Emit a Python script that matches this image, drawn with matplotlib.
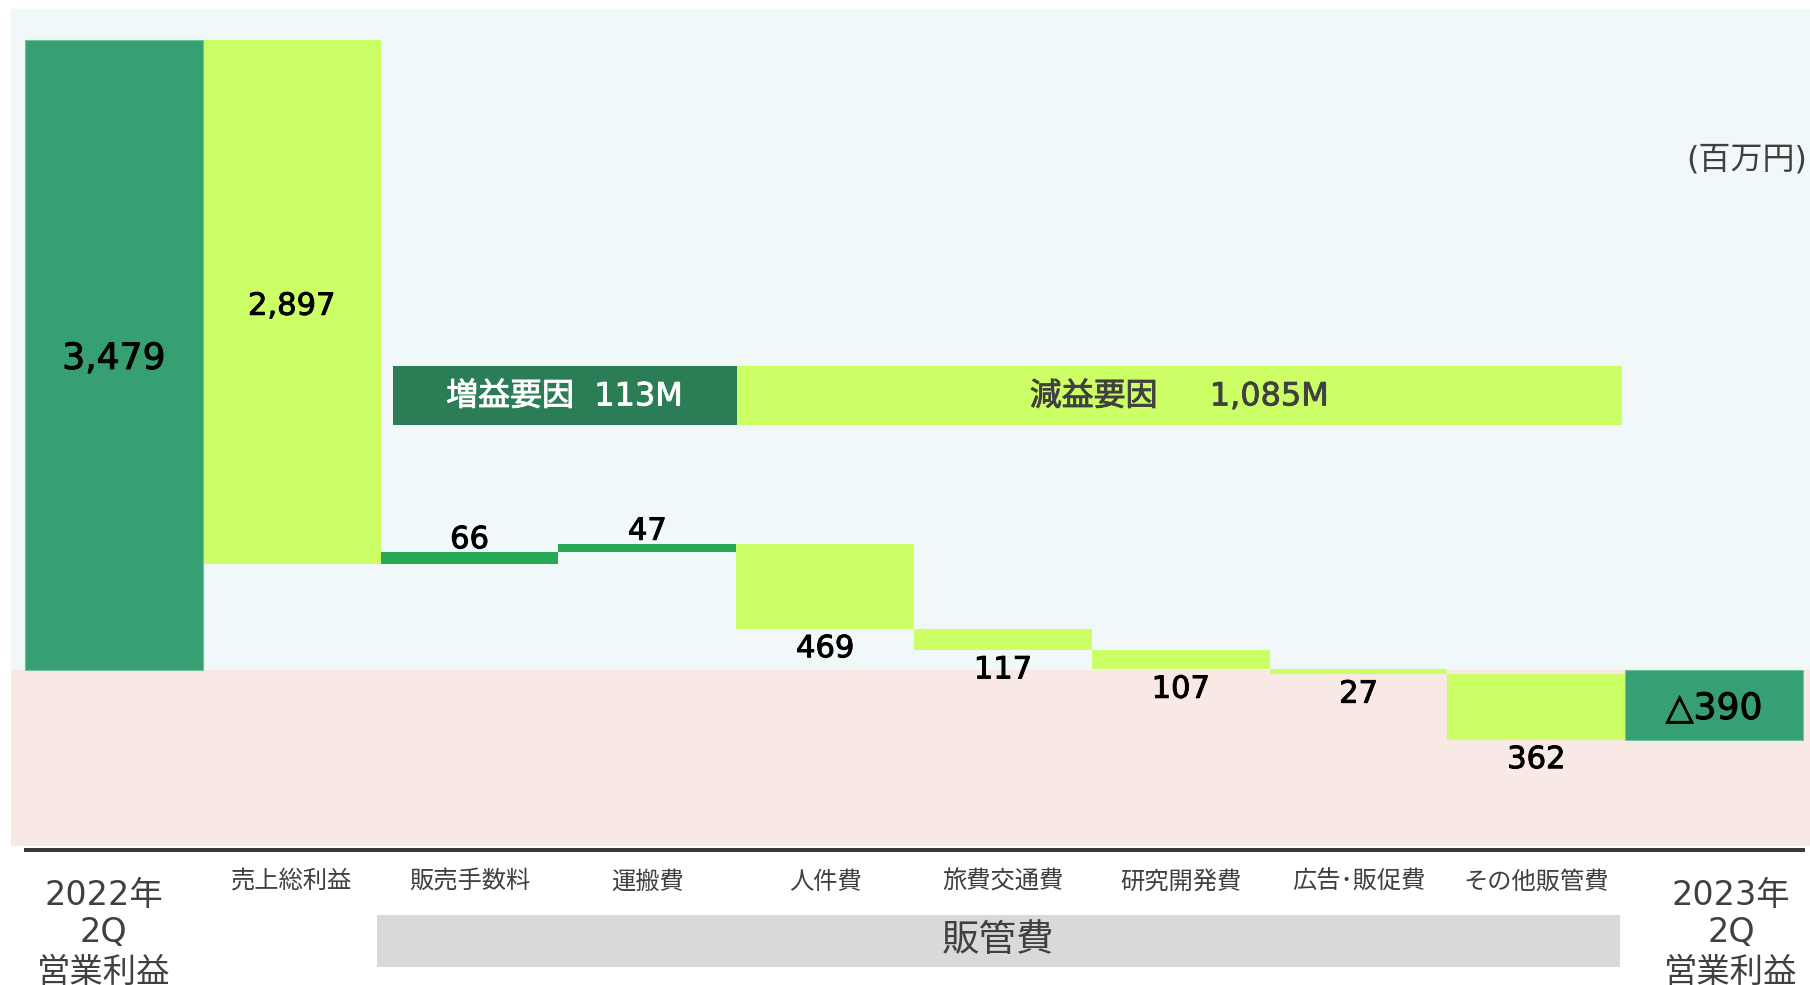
import numpy as np
import matplotlib.pyplot as plt
import matplotlib.patheffects as pe
from matplotlib.patches import Rectangle

# wide Latin digits from DejaVu, Japanese glyphs fall back to Noto CJK
plt.rcParams['font.family'] = ['DejaVu Sans', 'Noto Sans CJK JP']

# ------------------------------------------------------------
# Data (百万円)
# ------------------------------------------------------------
categories = ["売上総利益", "販売手数料", "運搬費", "人件費", "旅費交通費",
              "研究開発費", "広告･販促費", "その他販管費"]
start_label = ["2022年", "2Q", "営業利益"]
end_label = ["2023年", "2Q", "営業利益"]

start_value = 3479
changes = [-2897, 66, 47, -469, -117, -107, -27, -362]
end_value = -390

value_labels = ["3,479", "2,897", "66", "47", "469", "117", "107", "27", "362", "△390"]

gain_text = "増益要因  113M"
loss_text = "減益要因　  1,085M"
group_text = "販管費"
unit_text = "(百万円)"

# ------------------------------------------------------------
# Colours
# ------------------------------------------------------------
c_total = "#36a072"
c_gain = "#27a954"
c_loss = "#ccff66"
c_head = "#2a7d55"
c_bg_pos = "#f1f8fa"
c_bg_neg = "#f9e9e5"
c_text = "#404040"

# pixel layout of the 1810x985 canvas
W, H = 1810, 985
X0, BW = 25, 177.8          # left edge of first bar, bar width in px
Y0, K = 669.5, 0.18094      # zero line in px, px per unit


def dx(p):
    return -0.5 + (p - X0) / BW


def dy(p):
    return (Y0 - p) / K


def heavier(color, lw=0.7):
    # a thin stroke in the text colour gives a "medium" weight look
    return [pe.withStroke(linewidth=lw, foreground=color)]


fig = plt.figure(figsize=(W / 100, H / 100), dpi=100)
ax = fig.add_axes([0, 0, 1, 1])
ax.set_xlim(dx(0), dx(W))
ax.set_ylim(dy(H), dy(0))
ax.set_axis_off()

# background bands (profit / loss zones)
ax.add_patch(Rectangle((dx(11.3), 0), dx(W) - dx(11.3), dy(9) - 0,
                       facecolor=c_bg_pos, edgecolor="none", zorder=0))
ax.add_patch(Rectangle((dx(11.3), dy(845.7)), dx(W) - dx(11.3), -dy(845.7),
                       facecolor=c_bg_neg, edgecolor="none", zorder=0))

# ------------------------------------------------------------
# Waterfall bars
# ------------------------------------------------------------
n = len(changes) + 2
xs = np.arange(n)
bottoms, heights, colors = [0], [start_value], [c_total]
running = start_value
for ch in changes:
    if ch < 0:
        bottoms.append(running + ch)
        heights.append(-ch)
        colors.append(c_loss)
    else:
        bottoms.append(running)
        heights.append(ch)
        colors.append(c_gain)
    running += ch
bottoms.append(min(0, end_value))
heights.append(abs(end_value))
colors.append(c_total)

ax.bar(xs, heights, bottom=bottoms, width=1.0, color=colors,
       edgecolor="none", zorder=3)
# light outline on the total bars
for i in (0, n - 1):
    ax.add_patch(Rectangle((i - 0.5, bottoms[i]), 1.0, heights[i], fill=False,
                           edgecolor="#6cc49a", linewidth=0.8, zorder=4))

# value labels
for i in range(n):
    top = bottoms[i] + heights[i]
    mid = bottoms[i] + heights[i] / 2
    if i == 0 or i == n - 1:
        xy, off, fs = (i, mid), -3, 26
    elif i == 1:
        xy, off, fs = (i, mid), -3, 22
    elif changes[i - 1] > 0:
        xy, off, fs = (i, top), 9, 22
    else:
        xy, off, fs = (i, bottoms[i]), -14.5, 22
    ax.annotate(value_labels[i], xy, xytext=(0, off), textcoords="offset points",
                ha="center", va="center", fontsize=fs, color="black",
                path_effects=heavier("black"), zorder=5)

# ------------------------------------------------------------
# Header boxes 増益 / 減益
# ------------------------------------------------------------
yb, yt = dy(425), dy(366)
ax.add_patch(Rectangle((dx(392.5), yb), dx(737) - dx(392.5), yt - yb,
                       facecolor=c_head, edgecolor="none", zorder=3))
ax.add_patch(Rectangle((dx(737), yb), dx(1622) - dx(737), yt - yb,
                       facecolor=c_loss, edgecolor="none", zorder=3))
ax.annotate(gain_text, ((dx(392.5) + dx(737)) / 2, (yb + yt) / 2),
            xytext=(0, -1), textcoords="offset points", color="white",
            ha="center", va="center", fontsize=23,
            path_effects=heavier("white", 0.6), zorder=5)
ax.annotate(loss_text, ((dx(737) + dx(1622)) / 2, (yb + yt) / 2),
            xytext=(0, -1), textcoords="offset points", color=c_text,
            ha="center", va="center", fontsize=23,
            path_effects=heavier(c_text, 0.6), zorder=5)

# unit
ax.text(dx(1807), dy(160), unit_text, color=c_text, ha="right", va="center",
        fontsize=23)

# ------------------------------------------------------------
# Axis line and category labels
# ------------------------------------------------------------
ax.plot([dx(24), dx(1805)], [dy(850.3), dy(850.3)], color="#3a3a3a",
        linewidth=2.9, solid_capstyle="butt", zorder=3)

for i, cat in enumerate(categories, start=1):
    ax.text(i, dy(882), cat, color=c_text, ha="center", va="center", fontsize=17.5)

for lines, xc in ((start_label, 103.5), (end_label, 1731)):
    for txt, yc in zip(lines, (896, 932, 972)):
        ax.text(dx(xc), dy(yc), txt, color=c_text, ha="center", va="center",
                fontsize=24)

# 販管費 group box
ax.add_patch(Rectangle((dx(377), dy(967)), dx(1620) - dx(377), dy(915) - dy(967),
                       facecolor="#d9d9d9", edgecolor="none", zorder=2))
ax.text((dx(377) + dx(1620)) / 2, dy(941), group_text, color=c_text,
        ha="center", va="center", fontsize=27, zorder=3)

fig.savefig("out.png", dpi=100, facecolor="white")
